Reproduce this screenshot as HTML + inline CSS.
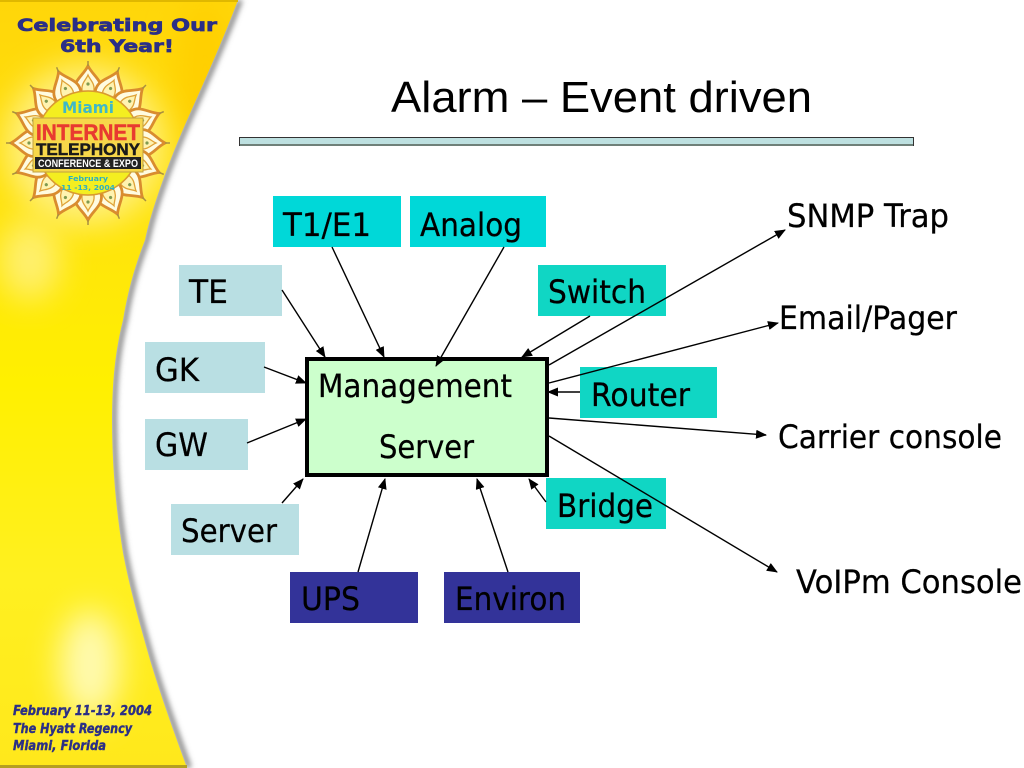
<!DOCTYPE html>
<html><head><meta charset="utf-8"><style>html,body{margin:0;padding:0;background:#fff}svg{display:block}</style></head><body>
<svg xmlns="http://www.w3.org/2000/svg" width="1024" height="768" viewBox="0 0 1024 768">
<defs>
<linearGradient id="yv" x1="0" y1="0" x2="0" y2="1"><stop offset="0" stop-color="#ffd60a"/><stop offset=".3" stop-color="#ffe40c"/><stop offset=".5" stop-color="#fff000"/><stop offset=".75" stop-color="#fff020"/><stop offset="1" stop-color="#ffe81c"/></linearGradient>
<clipPath id="side"><path d="M238 0C222 42 204 82 187 120C165 170 150 215 145 240C134 268 127 295 123 320C114 355 112 390 112 420C112 465 116 510 123 553C130 590 140 625 150 660C162 700 175 735 187 768H0V0z"/></clipPath>
<filter id="b" x="-50%" y="-10%" width="200%" height="120%"><feGaussianBlur stdDeviation="3"/></filter>
<filter id="b2" x="-150%" y="-150%" width="400%" height="400%"><feGaussianBlur stdDeviation="16"/></filter>
<marker id="a" markerWidth="12" markerHeight="10" refX="10" refY="4.5" orient="auto" markerUnits="userSpaceOnUse"><path d="M0 0L11 4.5L0 9z" fill="#000"/></marker>
<g id="pet">
<path d="M-13 -50C-16 -62 -5 -67 0 -77C5 -67 16 -62 13 -50z" fill="#fffbe0" stroke="#d98c2e" stroke-width="2.8"/>
<path d="M-6 -52C-7 -60 -2 -63 0 -68C2 -63 7 -60 6 -52z" fill="#fff3b0" stroke="#dfa238" stroke-width="1.3"/>
<path d="M0 -77V-82" stroke="#a89040" stroke-width="1.5"/>
<circle cy="-59" r="1.6" fill="#7f9a50"/>
</g>
</defs>
<rect width="1024" height="768" fill="#fff"/>
<path d="M240 0C224 42 206 82 189 120C167 170 152 215 147 240C136 268 129 295 125 320C116 355 114 390 114 420C114 465 118 510 125 553C132 590 142 625 152 660C164 700 177 735 189 768" fill="none" stroke="#777" stroke-width="5" filter="url(#b)"/>
<g clip-path="url(#side)">
<rect width="240" height="768" fill="url(#yv)"/>
<ellipse cx="205" cy="80" rx="30" ry="80" fill="#ffcf00" filter="url(#b2)"/>
<ellipse cx="30" cy="260" rx="30" ry="40" fill="#fff070" filter="url(#b2)"/>
<ellipse cx="85" cy="145" rx="80" ry="80" fill="#fff080" filter="url(#b2)"/>
<ellipse cx="90" cy="665" rx="30" ry="55" fill="#fffab0" filter="url(#b2)"/>
</g>
<rect y="765" width="187" height="3" fill="#b5a020"/>
<rect width="238" height="2" fill="#e0b800"/>

<g font-family="'DejaVu Sans',sans-serif" font-weight="bold" fill="#2b2f86" stroke="#2b2f86" stroke-width=".7">
<text x="17" y="31" font-size="17" textLength="200" lengthAdjust="spacingAndGlyphs">Celebrating Our</text>
<text x="60" y="52" font-size="17" textLength="114" lengthAdjust="spacingAndGlyphs">6th Year!</text>
</g>

<!-- emblem -->
<g transform="translate(88,143)">
<use href="#pet" transform="rotate(0)"/><use href="#pet" transform="rotate(22.5)"/><use href="#pet" transform="rotate(45)"/><use href="#pet" transform="rotate(67.5)"/>
<use href="#pet" transform="rotate(90)"/><use href="#pet" transform="rotate(112.5)"/><use href="#pet" transform="rotate(135)"/><use href="#pet" transform="rotate(157.5)"/>
<use href="#pet" transform="rotate(180)"/><use href="#pet" transform="rotate(202.5)"/><use href="#pet" transform="rotate(225)"/><use href="#pet" transform="rotate(247.5)"/>
<use href="#pet" transform="rotate(270)"/><use href="#pet" transform="rotate(292.5)"/><use href="#pet" transform="rotate(315)"/><use href="#pet" transform="rotate(337.5)"/>
<circle r="52" fill="#f4ee20" stroke="#d99a30" stroke-width="1.5"/>
</g>
<text x="88" y="113" text-anchor="middle" font-family="'DejaVu Sans',sans-serif" font-weight="bold" font-size="16" fill="#3fb8c8" textLength="52" lengthAdjust="spacingAndGlyphs">Miami</text>
<rect x="33" y="118" width="110" height="54" fill="#f7d74a" stroke="#c0a040"/>
<text x="88" y="140" text-anchor="middle" font-family="'Liberation Sans',sans-serif" font-weight="bold" font-size="22" fill="#e83a30" stroke="#e83a30" stroke-width=".5" textLength="104" lengthAdjust="spacingAndGlyphs">INTERNET</text>
<text x="88" y="155" text-anchor="middle" font-family="'Liberation Sans',sans-serif" font-weight="bold" font-size="17" fill="#1a1a1a" stroke="#1a1a1a" stroke-width=".5" textLength="104" lengthAdjust="spacingAndGlyphs">TELEPHONY</text>
<rect x="35" y="157" width="106" height="12" fill="#222"/>
<text x="88" y="167" text-anchor="middle" font-family="'Liberation Sans',sans-serif" font-weight="bold" font-size="11" fill="#fff" textLength="100" lengthAdjust="spacingAndGlyphs">CONFERENCE &amp; EXPO</text>
<text x="88" y="181" text-anchor="middle" font-family="'DejaVu Sans',sans-serif" font-weight="bold" font-size="7" fill="#2fb0c0" textLength="40" lengthAdjust="spacingAndGlyphs">February</text>
<text x="88" y="190" text-anchor="middle" font-family="'DejaVu Sans',sans-serif" font-weight="bold" font-size="7" fill="#2fb0c0" textLength="54" lengthAdjust="spacingAndGlyphs">11 -13, 2004</text>

<g font-family="'DejaVu Sans',sans-serif" font-weight="bold" font-style="italic" fill="#2b2f86" stroke="#2b2f86" stroke-width=".4" font-size="13">
<text x="13" y="715" textLength="139" lengthAdjust="spacingAndGlyphs">February 11-13, 2004</text>
<text x="13" y="733" textLength="119" lengthAdjust="spacingAndGlyphs">The Hyatt Regency</text>
<text x="13" y="750" textLength="93" lengthAdjust="spacingAndGlyphs">Miami, Florida</text>
</g>

<!-- title -->
<text x="391" y="112" font-family="'Liberation Sans',sans-serif" font-size="44" textLength="421" lengthAdjust="spacingAndGlyphs">Alarm – Event driven</text>
<rect x="239" y="137" width="675" height="9" fill="#333"/>
<rect x="240" y="138" width="673" height="6" fill="#bde0e0"/>
<rect x="240" y="144" width="673" height="2" fill="#6f8079"/>

<!-- boxes -->
<g>
<rect x="273" y="196" width="128" height="51" fill="#00d8d8"/>
<rect x="410" y="196" width="136" height="51" fill="#00d8d8"/>
<rect x="179" y="265" width="103" height="51" fill="#b9dfe3"/>
<rect x="538" y="265" width="128" height="51" fill="#10d6c4"/>
<rect x="145" y="342" width="120" height="51" fill="#b9dfe3"/>
<rect x="145" y="419" width="103" height="51" fill="#b9dfe3"/>
<rect x="580" y="367" width="137" height="51" fill="#10d6c4"/>
<rect x="546" y="478" width="120" height="51" fill="#10d6c4"/>
<rect x="171" y="504" width="128" height="51" fill="#b9dfe3"/>
<rect x="290" y="572" width="128" height="51" fill="#333399"/>
<rect x="444" y="572" width="136" height="51" fill="#333399"/>
</g>
<rect x="307" y="359" width="240" height="116" fill="#ccffcc" stroke="#000" stroke-width="4"/>

<!-- arrows -->
<g stroke="#000" stroke-width="1.4" fill="none" marker-end="url(#a)">
<line x1="332" y1="247" x2="384" y2="357"/>
<line x1="504" y1="247" x2="436" y2="366"/>
<line x1="282" y1="290" x2="325" y2="357"/>
<line x1="590" y1="316" x2="522" y2="357"/>
<line x1="264" y1="367" x2="306" y2="383"/>
<line x1="247" y1="443" x2="306" y2="419"/>
<line x1="580" y1="392" x2="548" y2="392"/>
<line x1="282" y1="503" x2="303" y2="479"/>
<line x1="358" y1="572" x2="385" y2="479"/>
<line x1="508" y1="572" x2="477" y2="479"/>
<line x1="546" y1="502" x2="529" y2="479"/>
<line x1="549" y1="365" x2="785" y2="230"/>
<line x1="549" y1="383" x2="778" y2="323"/>
<line x1="549" y1="418" x2="766" y2="435"/>
<line x1="549" y1="436" x2="777" y2="572"/>
</g>

<!-- labels -->
<g font-family="'DejaVu Sans',sans-serif" font-size="32" fill="#000" stroke="#000" stroke-width=".25">
<text x="283" y="236" textLength="88" lengthAdjust="spacingAndGlyphs">T1/E1</text>
<text x="420" y="236" textLength="102" lengthAdjust="spacingAndGlyphs">Analog</text>
<text x="189" y="303" textLength="39" lengthAdjust="spacingAndGlyphs">TE</text>
<text x="548" y="303" textLength="98" lengthAdjust="spacingAndGlyphs">Switch</text>
<text x="155" y="381" textLength="44" lengthAdjust="spacingAndGlyphs">GK</text>
<text x="155" y="456" textLength="53" lengthAdjust="spacingAndGlyphs">GW</text>
<text x="591" y="406" textLength="99" lengthAdjust="spacingAndGlyphs">Router</text>
<text x="557" y="517" textLength="96" lengthAdjust="spacingAndGlyphs">Bridge</text>
<text x="181" y="542" textLength="96" lengthAdjust="spacingAndGlyphs">Server</text>
<text x="301" y="610" textLength="59" lengthAdjust="spacingAndGlyphs">UPS</text>
<text x="455" y="610" textLength="111" lengthAdjust="spacingAndGlyphs">Environ</text>
<text x="318" y="397" textLength="194" lengthAdjust="spacingAndGlyphs">Management</text>
<text x="379" y="458" textLength="95" lengthAdjust="spacingAndGlyphs">Server</text>
<text x="787" y="227" textLength="162" lengthAdjust="spacingAndGlyphs">SNMP Trap</text>
<text x="779" y="329" textLength="178" lengthAdjust="spacingAndGlyphs">Email/Pager</text>
<text x="778" y="448" textLength="224" lengthAdjust="spacingAndGlyphs">Carrier console</text>
<text x="796" y="593" textLength="226" lengthAdjust="spacingAndGlyphs">VoIPm Console</text>
</g>
</svg>
</body></html>
